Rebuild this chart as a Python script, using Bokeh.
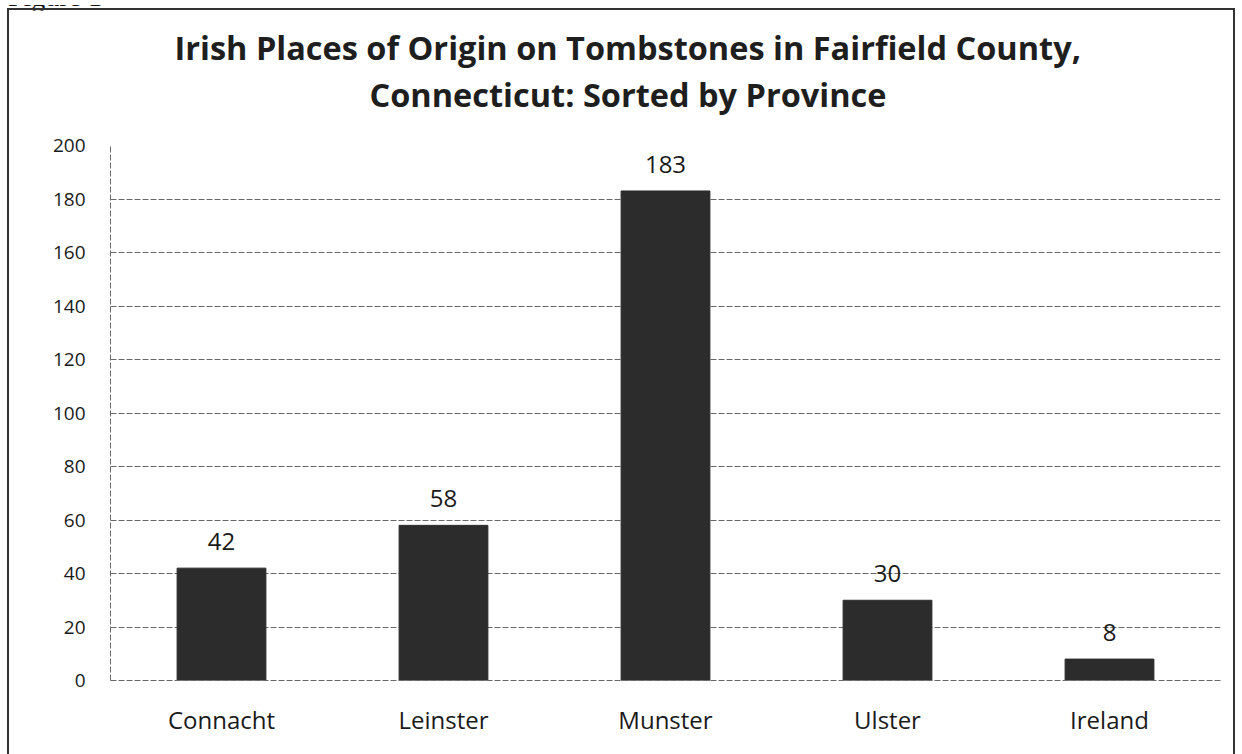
from bokeh.plotting import figure
from bokeh.models import ColumnDataSource, LabelSet, Title, FactorRange, Range1d, FixedTicker, Div
from bokeh.layouts import column
from bokeh.embed import file_html
from bokeh.resources import INLINE
from bokeh.core.properties import value

categories = ["Connacht", "Leinster", "Munster", "Ulster", "Ireland"]
counts = [42, 58, 183, 30, 8]
y_ticks = [0, 20, 40, 60, 80, 100, 120, 140, 160, 180, 200]
title_lines = ["Irish Places of Origin on Tombstones in Fairfield County,",
               "Connecticut: Sorted by Province"]
figure_caption = "Figure 1"

# figure canvas sits at window (9, 10); frame edges in canvas pixels
W, H = 1224, 744
FL, FR, FT, FB = 101, 1211, 135, 670

src = ColumnDataSource(dict(cat=categories, count=counts, label=[str(c) for c in counts]))

p = figure(x_range=FactorRange(*categories, range_padding=0), y_range=Range1d(0, 200),
           width=W, height=H, output_backend="svg", toolbar_location=None,
           min_border_left=FL, min_border_right=W - FR, min_border_top=FT, min_border_bottom=H - FB)
p.styles = {"margin-left": "9px", "margin-top": "-8px", "outline": "2px solid #333333"}
p.background_fill_color = "white"
p.border_fill_color = "white"
p.outline_line_color = None

p.xgrid.grid_line_color = None
p.ygrid.grid_line_color = "#6a6a6a"
p.ygrid.grid_line_dash = "6 2"
p.ygrid.grid_line_width = 1
p.yaxis.ticker = FixedTicker(ticks=y_ticks)

for ax in (p.xaxis, p.yaxis):
    ax.axis_line_color = "#6a6a6a"
    ax.axis_line_dash = "6 2"
    ax.major_tick_line_color = None
    ax.minor_tick_line_color = None
    ax.major_label_text_font = "Open Sans"
    ax.major_label_text_color = "#1a1a1a"
p.yaxis.major_label_text_font_size = "19px"
p.yaxis.major_label_standoff = 19
p.xaxis.major_label_text_font_size = "24px"
p.xaxis.major_label_standoff = 16

p.vbar(x="cat", top="count", width=0.4, source=src, fill_color="#2c2c2c", line_color="#2c2c2c")

labels = LabelSet(x="cat", y="count", text="label", source=src, text_align="center",
                  text_baseline="bottom", y_offset=18, text_font=value("Open Sans"),
                  text_font_size=value("24px"), text_color="#1a1a1a")
p.add_layout(labels)

# "above" panels stack outward from the frame: spacer, second line, first line
p.add_layout(Title(text=" ", text_font_size="1px", standoff=26), "above")
p.add_layout(Title(text=title_lines[1], align="left", offset=259, standoff=0,
                   text_font="Open Sans", text_font_style="bold", text_font_size="32.5px",
                   text_color="#1e1e1e"), "above")
p.add_layout(Title(text=title_lines[0], align="left", offset=64, standoff=0,
                   text_font="Open Sans", text_font_style="bold", text_font_size="32.5px",
                   text_color="#1e1e1e"), "above")

cap = Div(text='<div style="position:relative; top:-22px; font-family:\'Liberation Serif\'; '
               'font-size:28px; line-height:28px; color:#111; white-space:nowrap;">'
               + figure_caption + '</div>',
          width=150, height=8, styles={"overflow": "hidden", "margin-left": "8px"})

root = column(cap, p, spacing=0)
open("out.html", "w").write(file_html(root, INLINE))
